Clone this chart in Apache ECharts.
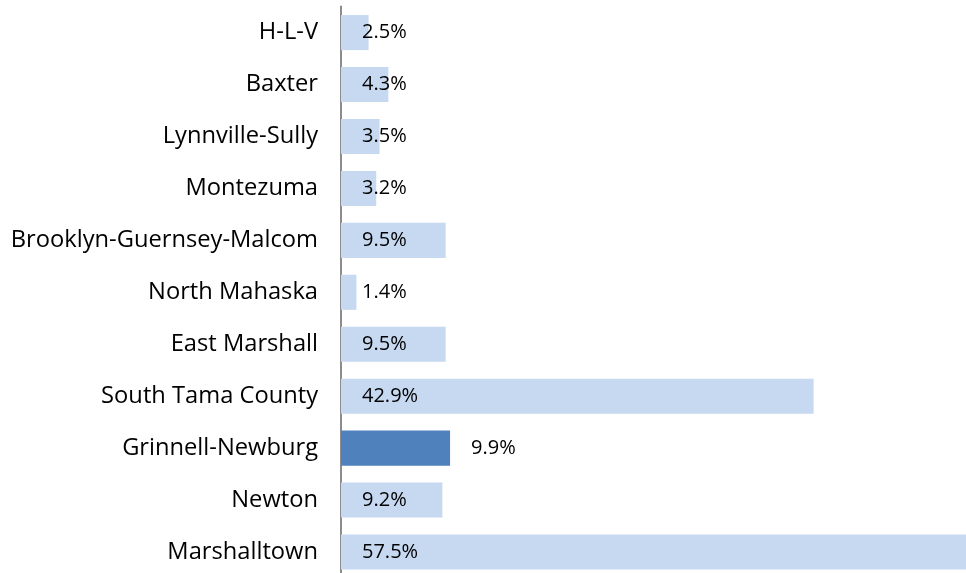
<!DOCTYPE html>
<html>
<head>
<meta charset="utf-8">
<script src="https://cdn.jsdelivr.net/npm/echarts@6/dist/echarts.min.js"></script>
<style>
  html, body { margin: 0; padding: 0; background: #fff; }
  #chart { width: 966px; height: 573px; }
</style>
</head>
<body>
<div id="chart"></div>
<script>
// districts, top to bottom as shown
const districts = ['H-L-V', 'Baxter', 'Lynnville-Sully', 'Montezuma', 'Brooklyn-Guernsey-Malcom',
  'North Mahaska', 'East Marshall', 'South Tama County', 'Grinnell-Newburg', 'Newton', 'Marshalltown'];
const shares = [2.5, 4.3, 3.5, 3.2, 9.5, 1.4, 9.5, 42.9, 9.9, 9.2, 57.5];
const highlight = 'Grinnell-Newburg';

const font = '"Open Sans", Lato, sans-serif';

const chart = echarts.init(document.getElementById('chart'), null, { renderer: 'canvas' });

chart.setOption({
  animation: false,
  grid: {
    left: 341,
    right: -36,   // the last bar runs off the right edge in the original
    top: 6.6,
    bottom: -5,
    outerBoundsMode: 'none'
  },
  xAxis: {
    type: 'value',
    min: 0,
    max: 60,
    show: false
  },
  yAxis: {
    type: 'category',
    inverse: true,
    data: districts,
    axisLine: { show: true, lineStyle: { color: '#8c8c8c', width: 2 } },
    axisTick: { show: false },
    axisLabel: {
      color: '#000',
      fontFamily: font,
      fontSize: 23.7,
      margin: 23
    }
  },
  series: [{
    type: 'bar',
    barCategoryGap: '32.5%',
    data: shares.map((v, i) => {
      const hot = districts[i] === highlight;
      return {
        value: v,
        itemStyle: { color: hot ? '#4f81bd' : '#c6d9f1' },
        label: { position: hot ? 'right' : 'insideLeft' }
      };
    }),
    label: {
      show: true,
      distance: 21,
      color: '#000',
      fontFamily: font,
      fontSize: 20,
      formatter: p => p.value.toFixed(1) + '%'
    }
  }]
});
</script>
</body>
</html>
